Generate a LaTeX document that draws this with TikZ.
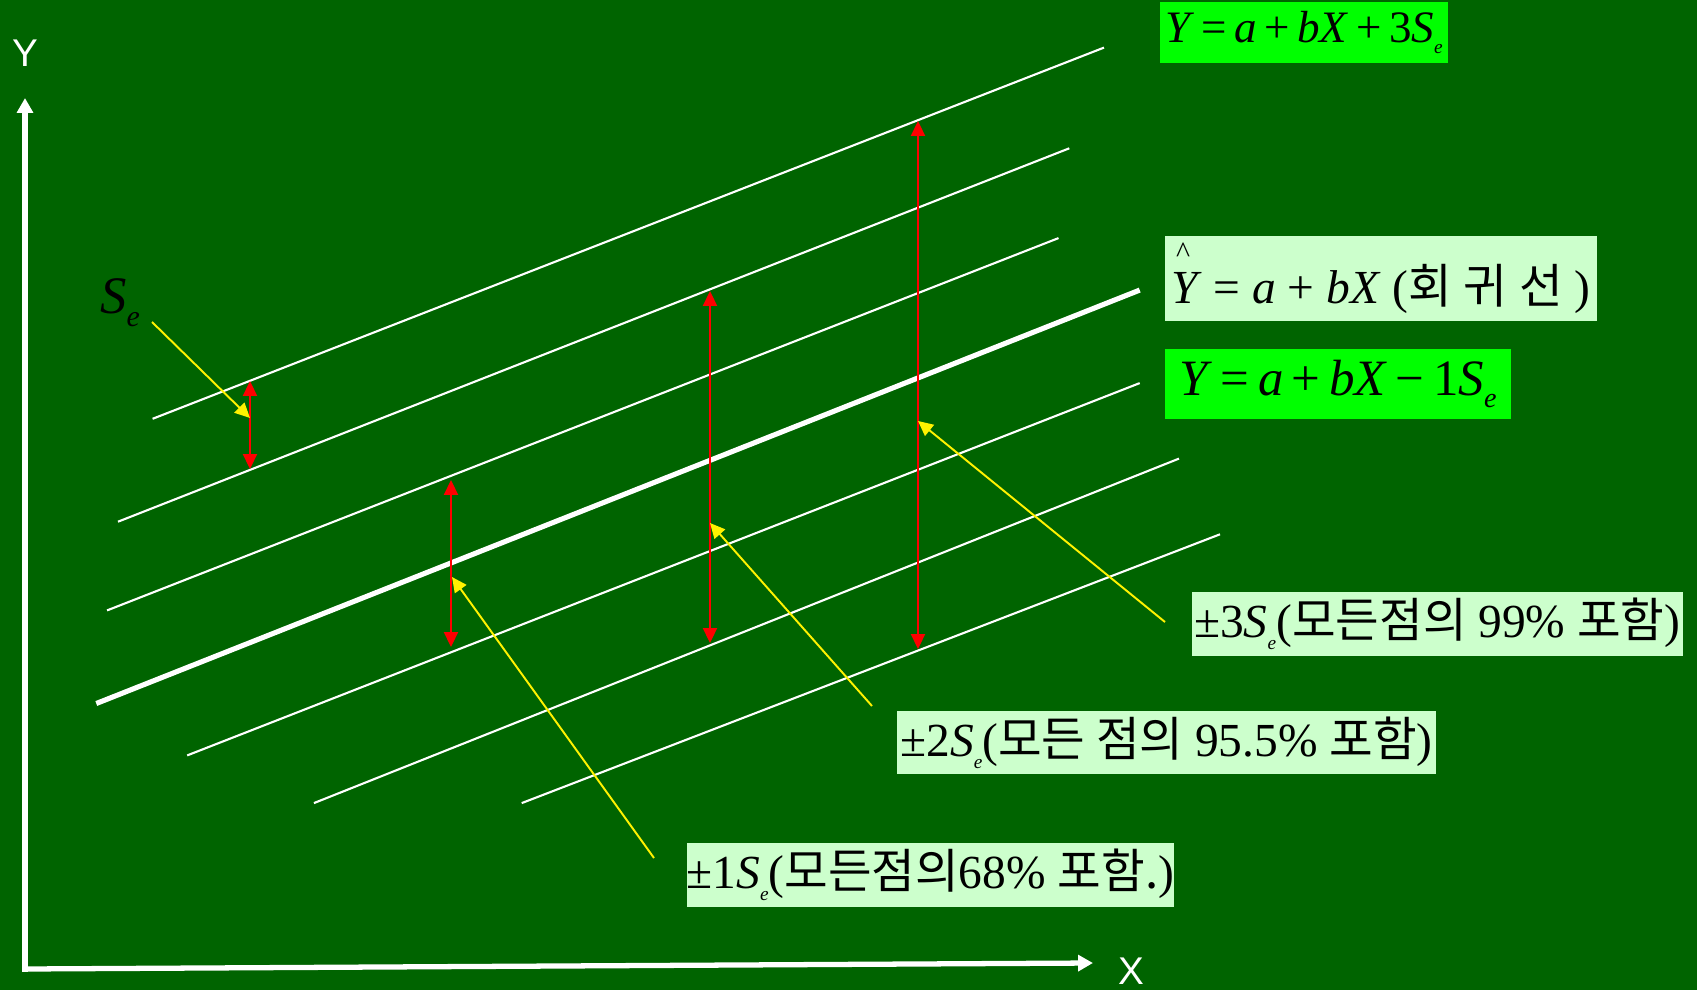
\documentclass[tikz,border=0pt]{standalone}
\usepackage{fontspec}
\setmainfont{Liberation Serif}
\setsansfont{Liberation Sans}
\newfontfamily\kr{Noto Sans CJK KR}
\usepackage{tikz}
\usetikzlibrary{arrows.meta}

\definecolor{fondo}{RGB}{0,100,0}
\definecolor{verdevivo}{RGB}{0,255,0}
\definecolor{verdechiaro}{RGB}{204,255,204}

% S con pedice e (dimensione del pedice in pt)
\newcommand{\Se}[1][11]{\textit{S}\raisebox{-0.25em}{\fontsize{#1}{#1}\selectfont\textit{e}}}
\newcommand{\Yhat}{\makebox[0pt][l]{\raisebox{0.87em}{\hspace{0.1em}\fontsize{17}{17}\selectfont\textasciicircum}}\textit{Y}}

\begin{document}
\begin{tikzpicture}[x=0.02cm, y=-0.02cm,
  banda/.style={white, line width=1.2pt},
  freccia/.style={red, line width=1pt,
    {Triangle[length=8.5pt, width=8pt]}-{Triangle[length=8.5pt, width=8pt]}},
  richiamo/.style={yellow, line width=1.1pt, -{Triangle[length=8.5pt, width=8pt]}},
  asse/.style={white, line width=3pt, line cap=rect, -{Triangle[length=8.5pt, width=9pt]}},
  formula/.style={fill=verdevivo, text=black, inner sep=0pt},
  etichetta/.style={fill=verdechiaro, text=black, inner sep=0pt,
    font=\fontsize{27}{30}\selectfont}]
  % sfondo: 1 unita' = 1 px
  \fill[fondo] (0,0) rectangle (1697,990);
  \useasboundingbox (0,0) rectangle (1697,990);

  % assi
  \coordinate (O) at (25,969);
  \coordinate (ytop) at (25,98);
  \coordinate (xend) at (1093,963);
  \draw[asse] (O) -- (ytop);
  \draw[asse] (O) -- (xend);
  \node[white, font=\sffamily\fontsize{22}{22}\selectfont] (ylab) at (25,53) {Y};
  \node[white, font=\sffamily\fontsize{22}{22}\selectfont, anchor=base] (xlab) at (1131,984) {X};

  % rette parallele (+3, +2, +1, -1, -2, -3 S_e)
  \foreach \xa/\ya/\xb/\yb in {152.6/418.8/1104/47.6, 118/521.7/1069.3/148.3,
                               107.1/610.4/1058.5/238.1, 187.2/755.4/1139.7/383.1,
                               313.9/803.1/1179/458.6, 521.7/803.1/1220/534.3}{
    \draw[banda] (\xa,\ya) -- (\xb,\yb);
  }
  % retta di regressione
  \draw[white, line width=2.9pt] (96.3,703.5) -- (1139.7,290.1);

  % ampiezze delle bande
  \foreach \n/\x/\ya/\yb in {a/250/381/469, b/451/480/647, c/710/291/643, d/918/121/649}{
    \coordinate (\n top) at (\x,\ya);
    \coordinate (\n bot) at (\x,\yb);
    \draw[freccia] (\n top) -- (\n bot);
  }

  % etichette
  \node[formula, minimum width=5.76cm, minimum height=1.22cm,
        font=\fontsize{25.6}{28}\selectfont] (piu3) at (1304,32.5)
    {\textit{Y}\,=\,\textit{a}\,+\,\textit{bX}\,+\,3\Se};
  \node[etichetta, minimum width=8.64cm, minimum height=1.70cm] (retta) at (1381,278.5)
    {\Yhat\ = \textit{a} + \textit{bX} ({\kr 회\hspace{0.25em}귀\hspace{0.25em}선} )};
  \node[formula, minimum width=6.92cm, minimum height=1.40cm,
        font=\fontsize{29}{32}\selectfont] (meno1) at (1338,384)
    {\textit{Y}\,=\,\textit{a}\,+\,\textit{bX}\,\textminus\,1\Se[16]};
  \node[etichetta, minimum width=9.83cm, minimum height=1.28cm] (tre) at (1437.3,624)
    {±3\Se({\kr 모든점의} 99\% {\kr 포함})};
  \node[etichetta, minimum width=10.78cm, minimum height=1.26cm] (due) at (1166.5,742.5)
    {±2\Se({\kr 모든 점의} 95.5\% {\kr 포함})};
  \node[etichetta, minimum width=9.72cm, minimum height=1.27cm] (uno) at (930.3,875)
    {±1\Se({\kr 모든점의}68\% {\kr 포함.})};
  \node[font=\fontsize{30}{32}\selectfont] (se) at (120,303) {\Se[17]};

  % richiami gialli
  \coordinate (se0) at (152,322);
  \coordinate (uno0) at (654,858);
  \coordinate (due0) at (872,706);
  \coordinate (tre0) at (1165,622);
  \draw[richiamo] (se0) -- (250,418);
  \draw[richiamo] (uno0) -- (452,577);
  \draw[richiamo] (due0) -- (710,523);
  \draw[richiamo] (tre0) -- (918,421);
\end{tikzpicture}
\end{document}
